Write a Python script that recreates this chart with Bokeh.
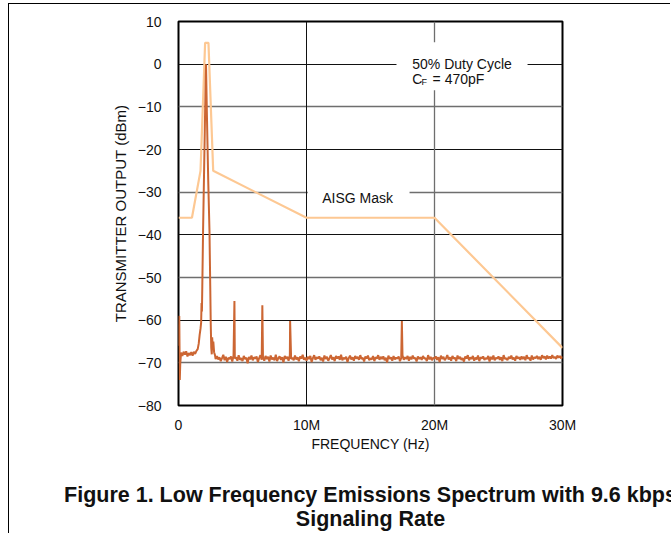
import numpy as np
from bokeh.plotting import figure
from bokeh.models import Range1d, FixedTicker, Grid, Label, BoxAnnotation, LinearAxis
from bokeh.embed import file_html
from bokeh.resources import INLINE

# ---------------- data ----------------
mask_freq_mhz = [0.0, 1.05, 1.72, 2.08, 2.34, 2.71, 10.0, 20.0, 30.0]
mask_level_dbm = [-36, -36, -25, 5, 5, -25, -36, -36, -66.5]

lobe_freq_mhz = [0.0, 0.06, 0.10, 0.14, 0.2, 0.3, 0.4, 0.5, 0.6, 0.7,
                 0.8, 0.9, 1.0, 1.1, 1.2, 1.3, 1.4, 1.5, 1.58, 1.65, 1.72, 1.77,
                 1.80, 1.83, 1.86, 1.92, 2.0, 2.08, 2.15, 2.22, 2.32, 2.42, 2.48,
                 2.52, 2.56, 2.6, 2.63, 2.67, 2.72, 2.78, 2.85, 2.9]
lobe_level_dbm = [-66.0, -59.0, -74.0, -70.0, -67.6, -68.4, -67.4, -68.1,
                  -67.3, -68.5, -67.7, -68.2, -67.5, -68.3, -67.4, -67.9, -67.2, -66.8,
                  -65.5, -63.5, -62.0, -60.5, -56.0, -58.0, -52.0, -39.0, -25.0, -11.0,
                  0.0, -12.0, -27.0, -39.0, -52.0, -61.0, -66.5, -68.0, -64.0, -66.0,
                  -65.0, -67.5, -68.2, -69.1]

floor_start_mhz = 3.0
floor_step_mhz = 0.1
floor_level_dbm = [
    -68.4, -69.2, -68.7, -69.6, -68.9, -68.1, -69.4, -68.6, -69.8, -68.8,
    -69.1, -68.5, -69.7, -68.3, -69.0, -68.7, -69.5, -68.2, -69.3, -68.9,
    -69.6, -68.4, -69.1, -68.8, -70.1, -68.6, -69.2, -68.3, -69.4, -68.7,
    -69.0, -68.5, -69.8, -68.9, -68.2, -69.3, -68.7, -69.5, -68.4, -69.1,
    -68.6, -69.7, -68.3, -69.2, -68.8, -69.4, -68.1, -69.6, -68.9, -68.5,
    -69.3, -68.7, -69.9, -68.4, -69.0, -68.6, -69.5, -68.2, -69.1, -68.8,
    -69.4, -68.3, -69.2, -68.7, -69.6, -68.5, -69.0, -68.1, -69.3, -68.8,
    -69.5, -68.6, -69.1, -68.4, -69.8, -68.9, -68.2, -69.3, -68.7, -69.0,
    -68.5, -69.4, -68.8, -69.7, -68.3, -69.1, -68.6, -69.5, -68.9, -68.2,
    -69.2, -68.7, -69.6, -68.4, -69.0, -68.5, -69.3, -68.1, -69.4, -68.8,
    -69.1, -68.6, -69.8, -68.9, -68.3, -69.2, -68.7, -69.5, -68.4, -69.0,
    -68.6, -69.3, -68.2, -69.1, -68.8, -69.7, -68.5, -69.0, -68.3, -69.4,
    -68.9, -69.2, -68.4, -69.6, -68.7, -69.0, -68.2, -69.3, -68.6, -69.1,
    -68.5, -69.4, -68.8, -69.9, -68.3, -69.1, -68.7, -69.5, -68.4, -69.2,
    -68.8, -69.0, -68.5, -69.6, -68.9, -68.2, -69.3, -68.7, -69.1, -68.4,
    -69.5, -68.6, -69.2, -68.3, -69.0, -68.8, -69.7, -68.5, -69.1, -68.7,
    -69.3, -68.4, -69.0, -68.9, -69.6, -68.2, -69.2, -68.6, -69.4, -68.8,
    -69.0, -68.5, -69.3, -68.7, -69.8, -68.3, -69.1, -68.6, -69.4, -68.9,
    -68.2, -69.2, -68.7, -69.5, -68.4, -69.0, -68.8, -69.6, -68.3, -69.1,
    -68.6, -69.3, -68.9, -69.7, -68.5, -69.0, -68.2, -69.4, -68.7, -69.1,
    -68.4, -69.5, -68.8, -69.2, -68.3, -69.6, -68.7, -69.0, -68.5, -69.3,
    -68.9, -69.1, -68.4, -69.7, -68.6, -69.2, -68.3, -69.4, -68.8, -69.0,
    -68.5, -69.3, -68.7, -69.6, -68.2, -69.1, -68.9, -69.4, -68.6, -69.0,
    -68.3, -69.2, -68.8, -69.5, -68.4, -69.0, -68.7, -69.3, -68.5, -69.1,
    -68.6, -69.4, -68.2, -69.0, -68.8, -69.5, -68.3, -69.2, -68.7, -68.9,
    -68.4, -69.1, -68.6, -69.3, -68.2, -68.9, -68.5, -69.2, -68.3, -69.0,
    -68.5, -69.0, -68.2, -68.9, -68.6, -69.1, -68.3, -68.8, -68.4, -69.0,
    -68.5,
]

harmonic_freq_mhz = [4.37, 6.55, 8.72, 17.45]
harmonic_level_dbm = [-55.5, -56.5, -60.2, -60.2]

y_ticks = [10, 0, -10, -20, -30, -40, -50, -60, -70, -80]
y_tick_labels = ["10", "0", "\u221210", "\u221220", "\u221230", "\u221240",
                 "\u221250", "\u221260", "\u221270", "\u221280"]
x_ticks = [0, 10, 20, 30]
x_tick_labels = ["0", "10M", "20M", "30M"]

caption_lines = ["Figure 1. Low Frequency Emissions Spectrum with 9.6 kbps",
                 "Signaling Rate"]

# ---------------- assemble trace ----------------
floor_freq = list(floor_start_mhz + floor_step_mhz * np.arange(len(floor_level_dbm)))
all_f = np.array(lobe_freq_mhz + floor_freq + harmonic_freq_mhz, dtype=float)
all_v = np.array(lobe_level_dbm + floor_level_dbm + harmonic_level_dbm, dtype=float)
order = np.argsort(all_f, kind="stable")
trace_f = all_f[order]
trace_v = all_v[order]

FONT = "Liberation Sans"
TXT = "#111111"

W, H = 662, 530
p = figure(width=W, height=H, output_backend="svg", toolbar_location=None,
           x_range=Range1d(0, 30), y_range=Range1d(-80, 10),
           min_border_left=169, min_border_right=109,
           min_border_top=17, min_border_bottom=129)
p.styles = {"margin-left": "9px", "margin-top": "4px",
            "box-shadow": "-1px -1px 0 0 #000"}

p.background_fill_color = "white"
p.border_fill_color = "white"
p.outline_line_color = "black"
p.outline_line_width = 2

# grids
p.xgrid.visible = False
p.ygrid.visible = False
p.add_layout(Grid(dimension=1, ticker=FixedTicker(ticks=[0, -20, -40, -60]),
                  grid_line_color="#111111", grid_line_width=1))
p.add_layout(Grid(dimension=1, ticker=FixedTicker(ticks=[-10, -30, -50, -70]),
                  grid_line_color="#6e6e6e", grid_line_width=1.3))
p.add_layout(Grid(dimension=0, ticker=FixedTicker(ticks=[10]),
                  grid_line_color="#111111", grid_line_width=1))
p.add_layout(Grid(dimension=0, ticker=FixedTicker(ticks=[20]),
                  grid_line_color="#6e6e6e", grid_line_width=1.3))

# axes
for ax in (p.xaxis[0], p.yaxis[0]):
    ax.axis_line_color = None
    ax.major_tick_line_color = None
    ax.minor_tick_line_color = None
    ax.major_tick_out = 0
    ax.major_tick_in = 0
    ax.major_label_text_font = FONT
    ax.major_label_text_font_size = "14px"
    ax.major_label_text_color = TXT
    ax.axis_label_text_font = FONT
    ax.axis_label_text_font_style = "normal"
    ax.axis_label_text_color = TXT

p.xaxis.ticker = FixedTicker(ticks=x_ticks)
p.xaxis.major_label_overrides = dict(zip(x_ticks, x_tick_labels))
p.yaxis.ticker = FixedTicker(ticks=y_ticks)
p.yaxis.major_label_overrides = dict(zip(y_ticks, y_tick_labels))
p.xaxis.axis_label = "FREQUENCY (Hz)"
p.yaxis.axis_label = "TRANSMITTER OUTPUT (dBm)"
p.xaxis.axis_label_text_font_size = "14px"
p.yaxis.axis_label_text_font_size = "15px"
p.xaxis.major_label_standoff = 11
p.yaxis.major_label_standoff = 17
p.xaxis.axis_label_standoff = 0
p.yaxis.axis_label_standoff = 6

# mask and spectrum
p.line(mask_freq_mhz, mask_level_dbm, line_color="#FDC893", line_width=2.2)
p.line(trace_f, trace_v, line_color="#CC6633", line_width=2.0)

# white boxes behind annotation texts
p.add_layout(BoxAnnotation(left=17.03, right=27.27, top=5.16, bottom=-6.09,
                           fill_color="white", fill_alpha=1.0, line_color=None))
p.add_layout(BoxAnnotation(left=10.1, right=18.05, top=-27.2, bottom=-33.0,
                           fill_color="white", fill_alpha=1.0, line_color=None))

def lab(x, y, text, size="14px", align="left", style="normal"):
    p.add_layout(Label(x=x, y=y, text=text, text_font=FONT, text_font_size=size,
                       text_color=TXT, text_align=align, text_baseline="alphabetic",
                       text_font_style=style))

lab(18.26, 0.09, "50% Duty Cycle")
lab(18.26, -3.59, "C")
lab(18.98, -4.25, "F", size="9px")
lab(19.85, -3.59, "= 470pF")
lab(11.23, -31.3, "AISG Mask")

# caption below the chart: each line is the label of a bare extra axis
for line, gap in zip(caption_lines, [28, -3]):
    cap_axis = LinearAxis(ticker=FixedTicker(ticks=[]), axis_label=line,
                          axis_line_color=None, major_tick_line_color=None,
                          minor_tick_line_color=None, major_tick_out=0,
                          major_tick_in=0, major_label_standoff=0,
                          axis_label_standoff=gap, axis_label_text_font=FONT,
                          axis_label_text_font_size="21.5px",
                          axis_label_text_font_style="bold",
                          axis_label_text_color=TXT)
    p.add_layout(cap_axis, "below")

open("out.html", "w").write(file_html(p, INLINE))
